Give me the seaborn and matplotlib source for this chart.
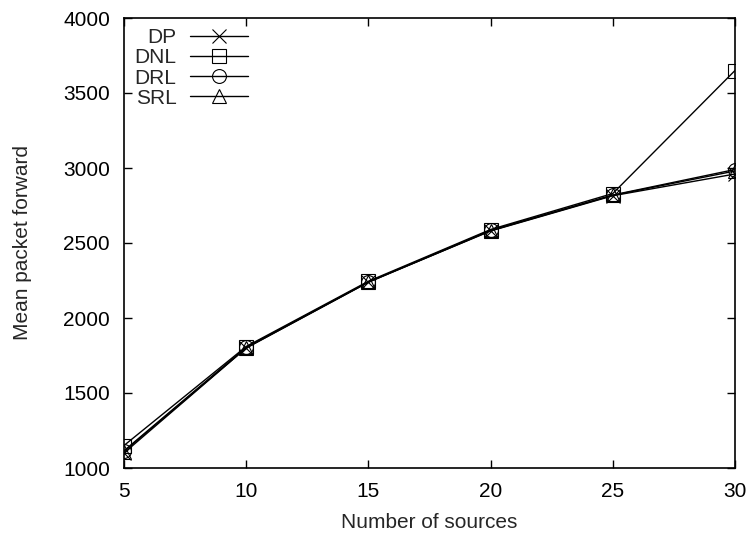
import matplotlib
matplotlib.use("Agg")
import matplotlib.pyplot as plt
import seaborn as sns
import pandas as pd

sources = [5, 10, 15, 20, 25, 30]
dp = [1100, 1800, 2240, 2580, 2815, 2960]
dnl = [1150, 1810, 2245, 2590, 2830, 3650]
drl = [1115, 1805, 2240, 2585, 2820, 2990]
srl = [1110, 1800, 2238, 2582, 2818, 2980]

series = [("DP", dp, "x"), ("DNL", dnl, "s"), ("DRL", drl, "o"), ("SRL", srl, "^")]

sns.set_style("ticks")
plt.rcParams["font.family"] = ["Liberation Sans", "DejaVu Sans"]

fig = plt.figure(figsize=(7.52, 5.37), dpi=100)
ax = fig.add_axes([124 / 752, 1 - 468 / 537, (735 - 124) / 752, (468 - 18) / 537])

for name, vals, mk in series:
    df = pd.DataFrame({"sources": sources, "value": vals})
    sns.lineplot(data=df, x="sources", y="value", ax=ax, color="black", lw=1.0,
                 marker=mk, markersize=10, markerfacecolor="none",
                 markeredgecolor="black", markeredgewidth=0.8, label=name)

ax.set_xlim(5, 30)
ax.set_ylim(1000, 4000)
ax.set_xticks([5, 10, 15, 20, 25, 30])
ax.set_yticks([1000, 1500, 2000, 2500, 3000, 3500, 4000])
ax.tick_params(direction="in", length=6, width=1, top=True, right=True,
               labelsize=15, colors="black")
ax.tick_params(axis="x", pad=10)
ax.tick_params(axis="y", pad=10)
for s in ax.spines.values():
    s.set_linewidth(1.2)
    s.set_color("black")
ax.set_xlabel("Number of sources", fontsize=15, va="center")
ax.set_ylabel("Mean packet forward", fontsize=15, va="center")
ax.xaxis.set_label_coords(0.5, (468 - 522) / 450)
ax.yaxis.set_label_coords((23 - 124) / 611, 0.5)

leg = ax.legend(loc="upper left", frameon=False, markerfirst=False,
                fontsize=15, handlelength=2.8, handletextpad=0.63,
                labelspacing=0.05, borderaxespad=0.1, borderpad=0.4)
for t in leg.get_texts():
    t.set_ha("right")
leg._legend_box.align = "right"

fig.savefig("out.png", dpi=100)
